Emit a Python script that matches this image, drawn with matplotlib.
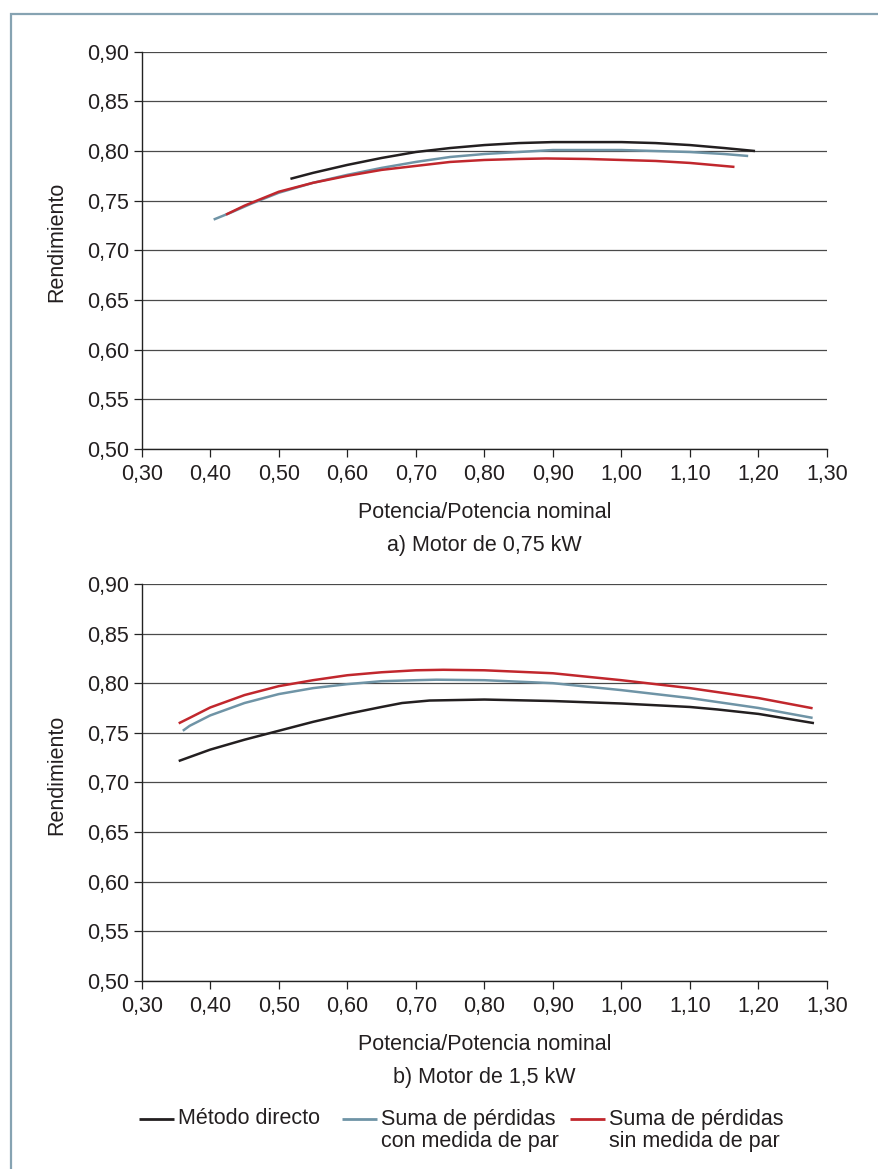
import matplotlib
matplotlib.use("Agg")
import matplotlib.pyplot as plt
from matplotlib.patches import Rectangle
from matplotlib.lines import Line2D

plt.rcParams['font.family'] = ['Liberation Sans', 'DejaVu Sans']

# ---------------- data ----------------
x_ticks = [0.30, 0.40, 0.50, 0.60, 0.70, 0.80, 0.90, 1.00, 1.10, 1.20, 1.30]
y_ticks = [0.50, 0.55, 0.60, 0.65, 0.70, 0.75, 0.80, 0.85, 0.90]

# a) Motor de 0,75 kW
a_directo_x = [0.517, 0.55, 0.60, 0.65, 0.70, 0.75, 0.80, 0.85, 0.90, 0.93, 0.97, 1.00, 1.05, 1.10, 1.15, 1.195]
a_directo_y = [0.772, 0.778, 0.786, 0.793, 0.799, 0.803, 0.806, 0.808, 0.809, 0.809, 0.809, 0.809, 0.808, 0.806, 0.803, 0.800]
a_conpar_x = [0.405, 0.43, 0.46, 0.50, 0.55, 0.60, 0.65, 0.70, 0.75, 0.80, 0.85, 0.90, 0.95, 1.00, 1.05, 1.10, 1.15, 1.185]
a_conpar_y = [0.731, 0.738, 0.747, 0.758, 0.768, 0.776, 0.783, 0.789, 0.794, 0.797, 0.799, 0.801, 0.801, 0.801, 0.800, 0.799, 0.797, 0.795]
a_sinpar_x = [0.423, 0.45, 0.50, 0.55, 0.60, 0.65, 0.70, 0.75, 0.80, 0.85, 0.89, 0.95, 1.00, 1.05, 1.10, 1.165]
a_sinpar_y = [0.736, 0.745, 0.759, 0.768, 0.775, 0.781, 0.785, 0.789, 0.791, 0.792, 0.7925, 0.792, 0.791, 0.790, 0.788, 0.784]

# b) Motor de 1,5 kW
b_directo_x = [0.354, 0.40, 0.45, 0.50, 0.55, 0.60, 0.65, 0.68, 0.72, 0.80, 0.90, 1.00, 1.10, 1.14, 1.20, 1.281]
b_directo_y = [0.7215, 0.733, 0.743, 0.752, 0.761, 0.769, 0.776, 0.780, 0.7825, 0.7835, 0.782, 0.7795, 0.776, 0.7735, 0.769, 0.7597]
b_conpar_x = [0.360, 0.37, 0.40, 0.45, 0.50, 0.55, 0.60, 0.65, 0.70, 0.73, 0.80, 0.90, 1.00, 1.10, 1.20, 1.279]
b_conpar_y = [0.752, 0.757, 0.7675, 0.780, 0.789, 0.795, 0.799, 0.802, 0.803, 0.8035, 0.803, 0.800, 0.793, 0.785, 0.775, 0.765]
b_sinpar_x = [0.354, 0.37, 0.40, 0.45, 0.50, 0.55, 0.60, 0.65, 0.70, 0.74, 0.80, 0.90, 1.00, 1.10, 1.20, 1.279]
b_sinpar_y = [0.7595, 0.765, 0.7755, 0.788, 0.797, 0.803, 0.808, 0.811, 0.813, 0.8135, 0.813, 0.810, 0.803, 0.795, 0.785, 0.7747]

series_labels = ["Método directo", "Suma de pérdidas\ncon medida de par", "Suma de pérdidas\nsin medida de par"]
series_colors = ["#231f20", "#6f94a6", "#c1272d"]
subtitles = ["a) Motor de 0,75 kW", "b) Motor de 1,5 kW"]
x_label = "Potencia/Potencia nominal"
y_label = "Rendimiento"

# ---------------- layout ----------------
W, H = 879, 1169
fig = plt.figure(figsize=(W / 100, H / 100), dpi=100)

def fx(px):
    return px / W

def fy(py):
    return 1 - py / H

FS = 15.5
ax_left, ax_right = 141.7, 827.0
panels = [(51.7, 449.0), (584.0, 980.7)]
panel_data = [
    [(a_directo_x, a_directo_y), (a_conpar_x, a_conpar_y), (a_sinpar_x, a_sinpar_y)],
    [(b_directo_x, b_directo_y), (b_conpar_x, b_conpar_y), (b_sinpar_x, b_sinpar_y)],
]
ylabel_centers = [242, 775]

frame_col = "#86a3b2"
fig.add_artist(Rectangle((fx(11), -0.05), 1.2, fy(14) + 0.05, transform=fig.transFigure,
                         fill=False, edgecolor=frame_col, linewidth=1.6))

for i, (top, bot) in enumerate(panels):
    ax = fig.add_axes([fx(ax_left), fy(bot), fx(ax_right) - fx(ax_left), (bot - top) / H])
    for (xs, ys), col in zip(panel_data[i], series_colors):
        ax.plot(xs, ys, color=col, lw=1.8, solid_capstyle='butt', solid_joinstyle='round')
    ax.set_xlim(0.30, 1.30)
    ax.set_ylim(0.50, 0.90)
    ax.set_xticks(x_ticks)
    ax.set_yticks(y_ticks)
    ax.set_xticklabels([f"{v:.2f}".replace('.', ',') for v in x_ticks])
    ax.set_yticklabels([f"{v:.2f}".replace('.', ',') for v in y_ticks])
    ax.tick_params(direction='out', length=6, width=0.9, color='#222222',
                   labelsize=FS, labelcolor='#231f20')
    ax.tick_params(axis='x', pad=5)
    ax.tick_params(axis='y', pad=3)
    for s in ['top', 'right']:
        ax.spines[s].set_visible(False)
    for s in ['left', 'bottom']:
        ax.spines[s].set_color('#222222')
        ax.spines[s].set_linewidth(1.0)
    ax.yaxis.grid(True, color='#4a4a4a', lw=0.9)
    ax.set_axisbelow(True)
    ax.set_facecolor('none')

    cx = fx((ax_left + ax_right) / 2)
    fig.text(cx, fy(bot + 64), x_label, ha='center', va='center', fontsize=FS, color='#231f20')
    fig.text(cx, fy(bot + 97), subtitles[i], ha='center', va='center', fontsize=FS, color='#231f20')
    fig.text(fx(57), fy(ylabel_centers[i]), y_label, rotation=90, ha='center', va='center',
             fontsize=FS, color='#231f20')

# ---------------- legend ----------------
leg_y1, leg_y2 = 1119, 1142
handle_x = [139, 342, 570]
for hx, lab, col in zip(handle_x, series_labels, series_colors):
    fig.add_artist(Line2D([fx(hx), fx(hx + 35)], [fy(leg_y1), fy(leg_y1)],
                          transform=fig.transFigure, color=col, lw=2.0, solid_capstyle='butt'))
    lines = lab.split("\n")
    for k, ln in enumerate(lines):
        fig.text(fx(hx + 39), fy(leg_y1 + k * (leg_y2 - leg_y1)), ln, ha='left', va='center',
                 fontsize=FS, color='#231f20')

fig.savefig("out.png", dpi=100, facecolor='white')
